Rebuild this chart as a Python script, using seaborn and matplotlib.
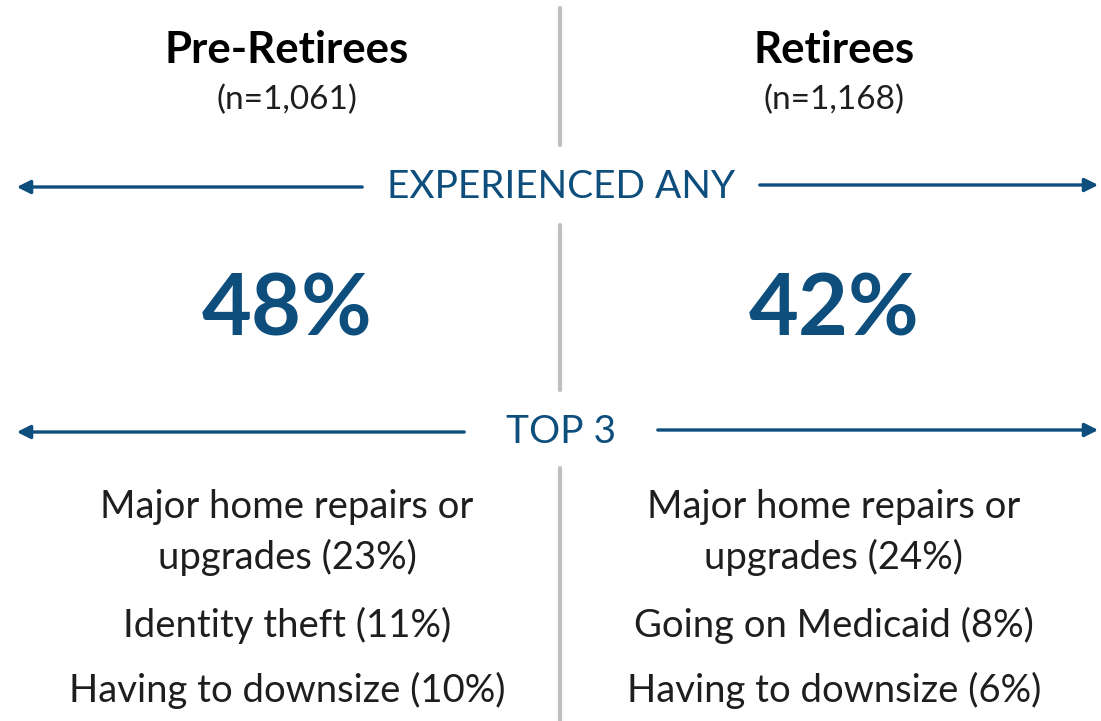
import matplotlib.pyplot as plt
import seaborn as sns

groups = ['Pre-Retirees', 'Retirees']
sample_sizes = ['n=1,061', 'n=1,168']
experienced_any = [48, 42]
top3 = [
    ['Major home repairs or', 'upgrades (23%)', 'Identity theft (11%)', 'Having to downsize (10%)'],
    ['Major home repairs or', 'upgrades (24%)', 'Going on Medicaid (8%)', 'Having to downsize (6%)'],
]

sns.set_theme(style='white')
plt.rcParams['font.family'] = ['Lato', 'DejaVu Sans']

blue = '#0D4E7D'
gray = '#BFBFBF'
txt = '#1E1E1E'

fig = plt.figure(figsize=(11.01, 7.21), dpi=100)
ax = fig.add_axes([0, 0, 1, 1])
ax.set_xlim(0, 1101)
ax.set_ylim(721, 0)
ax.axis('off')

# divider
for y0, y1 in [(8, 145), (225, 390), (468, 721)]:
    ax.plot([560, 560], [y0, y1], color=gray, lw=3)

# section arrows
def arrow_pair(label, y, left_end, right_start):
    ax.annotate('', xy=(14, y), xytext=(left_end, y), annotation_clip=False,
                arrowprops=dict(arrowstyle='-|>', color=blue, lw=2.4, mutation_scale=20))
    ax.annotate('', xy=(1101, y - 2), xytext=(right_start, y - 2), annotation_clip=False,
                arrowprops=dict(arrowstyle='-|>', color=blue, lw=2.4, mutation_scale=20))
    ax.text(561, y, label, color=blue, fontsize=28, ha='center', va='center')

arrow_pair('EXPERIENCED ANY', 187, 365, 757)
arrow_pair('TOP 3', 432, 467, 655)

centers = [287, 834]
item_y = [507, 557, 625, 690]
for cx, g, n, pct, items in zip(centers, groups, sample_sizes, experienced_any, top3):
    ax.text(cx, 50, g, fontsize=31.5, fontweight='bold', color='black', ha='center', va='center')
    ax.text(cx, 100, f'({n})', fontsize=24, color=txt, ha='center', va='center')
    ax.text(cx, 311, f'{pct}%', fontsize=62, fontweight='bold', color=blue, ha='center', va='center')
    for y, item in zip(item_y, items):
        ax.text(cx, y, item, fontsize=27.5, color=txt, ha='center', va='center')

fig.savefig('out.png', dpi=100)
